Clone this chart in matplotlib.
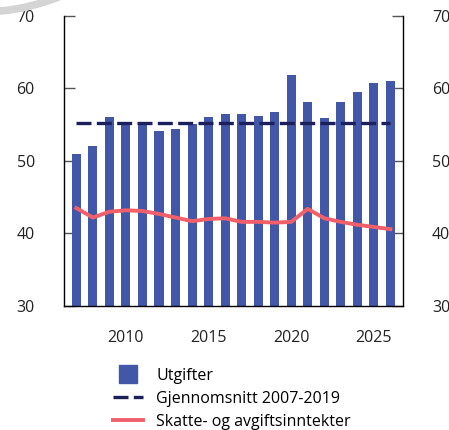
import matplotlib
matplotlib.use("Agg")
import matplotlib.pyplot as plt
from matplotlib.patches import Arc
from matplotlib.lines import Line2D

plt.rcParams['font.family'] = ['Open Sans', 'DejaVu Sans']

years = list(range(2007, 2027))
utgifter = [51.0, 52.0, 56.0, 55.0, 55.4, 54.1, 54.4, 55.1, 56.0, 56.5,
            56.5, 56.2, 56.8, 61.9, 58.1, 55.9, 58.1, 59.5, 60.8, 61.0]
skatter = [43.5, 42.2, 43.0, 43.2, 43.1, 42.7, 42.2, 41.7, 42.0, 42.1,
           41.6, 41.6, 41.5, 41.6, 43.4, 42.1, 41.6, 41.2, 40.9, 40.6]
snitt = 55.2
snitt_years = [2007, 2026]
xticks = [2010, 2015, 2020, 2025]
yticks = [30, 40, 50, 60, 70]

bar_col = '#4257a8'
dash_col = '#1b1f5c'
red_col = '#f0606a'

fig = plt.figure(figsize=(4.49, 4.30), dpi=100)
ax = fig.add_axes([0.1425, 0.2884, 0.7545, 0.6744])

ax.bar(years, utgifter, width=0.55, color=bar_col, zorder=2)
ax.plot(snitt_years, [snitt, snitt], color=dash_col, lw=2.4, dashes=(4.5, 1.6), zorder=3)
ax.plot(years, skatter, color=red_col, lw=2.8, zorder=4, solid_joinstyle='round')

ax.set_xlim(2006.25, 2026.75)
ax.set_ylim(30, 70)
ax.set_xticks(xticks)
ax.set_yticks(yticks)
ax.spines['top'].set_visible(False)
for s in ['left', 'right', 'bottom']:
    ax.spines[s].set_color('black')
    ax.spines[s].set_linewidth(1)

ax.tick_params(axis='x', length=0, pad=17, labelsize=11.5, colors='#222222')
ax.tick_params(axis='y', direction='in', length=8, width=1, color='#555555',
               pad=21, labelsize=11.5, labelcolor='#222222',
               left=True, right=True, labelleft=True, labelright=True)

# watermark arc in the corner
wm = Arc((-0.0445, 1.465), 0.944, 0.986, theta1=262, theta2=297,
         transform=fig.transFigure, color='#d4d4d4', lw=5.5)
fig.add_artist(wm)

handles = [
    Line2D([], [], marker='s', markersize=12.3, linestyle='none', color=bar_col),
    Line2D([], [], color=dash_col, lw=2.4, dashes=(4.5, 1.6)),
    Line2D([], [], color=red_col, lw=2.8),
]
labels = ['Utgifter', 'Gjennomsnitt 2007-2019', 'Skatte- og avgiftsinntekter']
fig.legend(handles, labels, loc='upper left', bbox_to_anchor=(0.252, 0.146),
           frameon=False, fontsize=11.5, handlelength=1.9, handleheight=1.0,
           handletextpad=0.8, labelspacing=0.4, borderaxespad=0, borderpad=0)

fig.savefig('out.png', dpi=100)
